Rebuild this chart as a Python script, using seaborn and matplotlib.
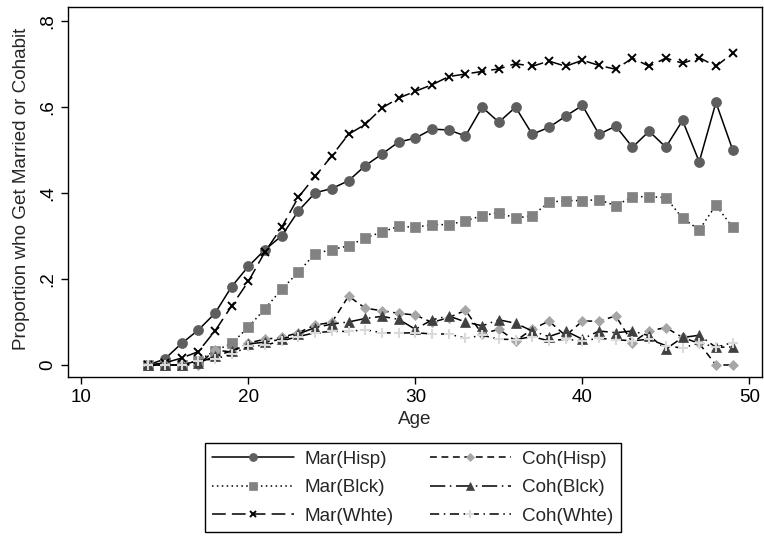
import matplotlib
matplotlib.use('Agg')
import matplotlib.pyplot as plt
import seaborn as sns

# data (ages 14..49)
ages = list(range(14, 50))

mar_hisp = [0, 0.014, 0.05, 0.081, 0.12, 0.182, 0.229, 0.268, 0.30, 0.358,
            0.40, 0.41, 0.428, 0.463, 0.49, 0.518, 0.527, 0.548, 0.546, 0.532,
            0.599, 0.564, 0.599, 0.536, 0.552, 0.578, 0.603, 0.536, 0.555, 0.506,
            0.543, 0.506, 0.568, 0.472, 0.61, 0.50]
mar_blck = [0, 0, 0, 0.01, 0.033, 0.05, 0.088, 0.131, 0.176, 0.216,
            0.259, 0.268, 0.277, 0.295, 0.309, 0.322, 0.32, 0.326, 0.326, 0.335,
            0.347, 0.354, 0.341, 0.347, 0.378, 0.382, 0.382, 0.384, 0.37, 0.391,
            0.391, 0.389, 0.341, 0.314, 0.371, 0.32]
mar_whte = [0, 0.005, 0.016, 0.031, 0.079, 0.137, 0.194, 0.263, 0.32, 0.39,
            0.438, 0.486, 0.536, 0.559, 0.597, 0.62, 0.636, 0.651, 0.67, 0.676,
            0.682, 0.688, 0.70, 0.694, 0.706, 0.694, 0.708, 0.696, 0.687, 0.713,
            0.694, 0.713, 0.701, 0.714, 0.694, 0.724]
coh_hisp = [0, 0, 0, 0, 0.035, 0.03, 0.051, 0.06, 0.064, 0.075,
            0.093, 0.099, 0.16, 0.132, 0.126, 0.12, 0.116, 0.099, 0.11, 0.127,
            0.072, 0.083, 0.056, 0.083, 0.102, 0.068, 0.102, 0.102, 0.114, 0.052,
            0.079, 0.087, 0.064, 0.05, 0, 0]
coh_blck = [0, 0, 0, 0.005, 0.02, 0.033, 0.049, 0.053, 0.06, 0.072,
            0.087, 0.095, 0.10, 0.108, 0.113, 0.106, 0.083, 0.105, 0.114, 0.10,
            0.091, 0.105, 0.097, 0.079, 0.066, 0.079, 0.06, 0.079, 0.075, 0.079,
            0.068, 0.037, 0.064, 0.069, 0.041, 0.042]
coh_whte = [0, 0, 0, 0.01, 0.014, 0.025, 0.043, 0.046, 0.056, 0.066,
            0.075, 0.078, 0.078, 0.082, 0.075, 0.074, 0.075, 0.072, 0.072, 0.062,
            0.069, 0.06, 0.059, 0.066, 0.056, 0.06, 0.056, 0.062, 0.059, 0.056,
            0.06, 0.045, 0.039, 0.052, 0.041, 0.052]

labels = ['Mar(Hisp)', 'Mar(Blck)', 'Mar(Whte)', 'Coh(Hisp)', 'Coh(Blck)', 'Coh(Whte)']
series = [mar_hisp, mar_blck, mar_whte, coh_hisp, coh_blck, coh_whte]

sns.set_style('ticks')
plt.rcParams['font.family'] = ['Liberation Sans', 'DejaVu Sans']
FS = 13.6

fig = plt.figure(figsize=(7.64, 5.40), dpi=100)
ax = fig.add_axes([0.0894, 0.3013, 0.9076, 0.6852])

styles = [
    dict(marker='o', ms=7.2, mfc='#5e5e5e', mec='#5e5e5e', mew=0.5, ls='-'),
    dict(marker='s', ms=6.6, mfc='#828282', mec='#828282', mew=0.5, ls=(0, (1, 2.2))),
    dict(marker='x', ms=5.8, mfc='black', mec='black', mew=1.4, ls=(0, (9, 4))),
    dict(marker='D', ms=5.2, mfc='#a6a6a6', mec='#a6a6a6', mew=0.5, ls=(0, (4.5, 3))),
    dict(marker='^', ms=7.0, mfc='#404040', mec='#404040', mew=0.5, ls=(0, (10, 3, 1, 3))),
    dict(marker='+', ms=7.0, mfc='#dadada', mec='#dadada', mew=1.5, ls=(0, (6, 3, 1, 3))),
]

for lab, vals, st in zip(labels, series, styles):
    sns.lineplot(x=ages, y=vals, ax=ax, color='black', lw=1.1, label=lab, **st)

if ax.get_legend() is not None:
    ax.get_legend().remove()

ax.set_xlim(9.22, 50.74)
ax.set_ylim(-0.0286, 0.831)
ax.set_xticks([10, 20, 30, 40, 50])
ax.set_xticklabels(['10', '20', '30', '40', '50'])
ax.set_yticks([0, 0.2, 0.4, 0.6, 0.8])
ax.set_yticklabels(['0', '.2', '.4', '.6', '.8'], rotation=90, va='center')
ax.tick_params(direction='out', length=5, width=1, labelsize=FS, colors='black', pad=3.5)
for s in ax.spines.values():
    s.set_visible(True)
    s.set_color('black')
    s.set_linewidth(1.0)

ax.set_xlabel('Age', fontsize=FS)
ax.set_ylabel('Proportion who Get Married or Cohabit', fontsize=FS)
ax.xaxis.set_label_coords(0.5, -0.09)
ax.yaxis.set_label_coords(-0.055, 0.51)

handles, labs = ax.get_legend_handles_labels()
leg = fig.legend(handles, labs, loc='upper center', bbox_to_anchor=(413 / 764, 1 - 443 / 540),
                 ncol=2, frameon=True, fancybox=False, edgecolor='black', framealpha=1,
                 fontsize=FS, handlelength=4.3, handletextpad=0.6, columnspacing=1.9,
                 labelspacing=0.6, borderpad=0.4, borderaxespad=0, markerscale=0.8)
leg.get_frame().set_linewidth(1.0)

fig.savefig('out.png', dpi=100)
